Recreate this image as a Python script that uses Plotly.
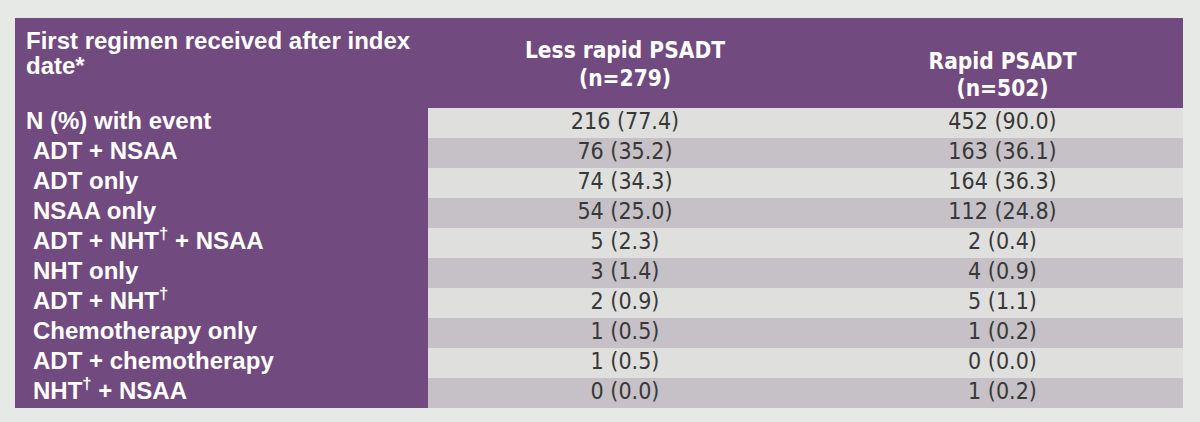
import plotly.graph_objects as go

# ---- data ----
header_lines = [["First regimen received after index", "date*"],
                ["Less rapid PSADT", "(n=279)"],
                ["Rapid PSADT", "(n=502)"]]

regimens = ["N (%) with event", "ADT + NSAA", "ADT only", "NSAA only",
            "ADT + NHT<sup>†</sup> + NSAA", "NHT only", "ADT + NHT<sup>†</sup>",
            "Chemotherapy only", "ADT + chemotherapy", "NHT<sup>†</sup> + NSAA"]
indented = [False, True, True, True, True, True, True, True, True, True]

less_rapid = ["216 (77.4)", "76 (35.2)", "74 (34.3)", "54 (25.0)", "5 (2.3)",
              "3 (1.4)", "2 (0.9)", "1 (0.5)", "1 (0.5)", "0 (0.0)"]

rapid = ["452 (90.0)", "163 (36.1)", "164 (36.3)", "112 (24.8)", "2 (0.4)",
         "4 (0.9)", "5 (1.1)", "1 (0.2)", "0 (0.0)", "1 (0.2)"]

# ---- style / layout ----
PURPLE = "#714a7f"
LIGHT = "#dfe0de"
DARK = "#c5c1c6"
BG = "#e7e9e6"
TXT = "#383838"
SANS = "Liberation Sans, Arial, sans-serif"
NARROW = "Liberation Sans Narrow, Arial Narrow, DejaVu Sans Condensed, Liberation Sans, sans-serif"

W, H = 1200, 422
table_left = 15
col_widths = [413, 394, 361]
table_top = 18
header_h = 90
row_h = 30
head_line_y = [[25, 50], [34, 62], [45, 72]]  # offsets from table top

col_starts = [table_left]
for w in col_widths[:-1]:
    col_starts.append(col_starts[-1] + w)
col_centers = [s + w / 2 for s, w in zip(col_starts, col_widths)]

n = len(regimens)
row_centers = [table_top + header_h + row_h * (i + 0.5) for i in range(n)]
header_center = table_top + header_h / 2
stripe = [LIGHT if i % 2 == 0 else DARK for i in range(n)]

fig = go.Figure()

# header background
fig.add_trace(go.Bar(
    orientation="h", y=[header_center], x=[sum(col_widths)], base=[table_left],
    width=[header_h], marker=dict(color=PURPLE, line=dict(width=0)),
    hoverinfo="skip", showlegend=False))

# label column background
fig.add_trace(go.Bar(
    orientation="h", y=row_centers, x=[col_widths[0]] * n, base=[col_starts[0]] * n,
    width=[row_h] * n, marker=dict(color=PURPLE, line=dict(width=0)),
    hoverinfo="skip", showlegend=False))

# striped value cells
for c in (1, 2):
    fig.add_trace(go.Bar(
        orientation="h", y=row_centers, x=[col_widths[c]] * n, base=[col_starts[c]] * n,
        width=[row_h] * n, marker=dict(color=stripe, line=dict(width=0)),
        hoverinfo="skip", showlegend=False))

# header texts
for c in range(3):
    lines = header_lines[c]
    ys = [table_top + off for off in head_line_y[c]]
    if c == 0:
        xs, pos = [col_starts[0] + 11] * len(lines), "middle right"
        font = dict(color="white", size=24, family=SANS)
    else:
        xs, pos = [col_centers[c]] * len(lines), "middle center"
        font = dict(color="white", size=22.5, family=NARROW)
    fig.add_trace(go.Scatter(
        x=xs, y=ys, mode="text", text=[f"<b>{t}</b>" for t in lines],
        textposition=pos, textfont=font,
        hoverinfo="skip", showlegend=False))

# row labels
fig.add_trace(go.Scatter(
    x=[col_starts[0] + (18 if ind else 11) for ind in indented], y=row_centers,
    mode="text", text=[f"<b>{r}</b>" for r in regimens], textposition="middle right",
    textfont=dict(color="white", size=24, family=SANS),
    hoverinfo="skip", showlegend=False))

# values
for c, vals in ((1, less_rapid), (2, rapid)):
    fig.add_trace(go.Scatter(
        x=[col_centers[c]] * n, y=row_centers, mode="text",
        text=vals, textposition="middle center",
        textfont=dict(color=TXT, size=23, family=NARROW),
        hoverinfo="skip", showlegend=False))

fig.update_layout(
    width=W, height=H,
    margin=dict(l=0, r=0, t=0, b=0),
    paper_bgcolor=BG, plot_bgcolor=BG,
    barmode="overlay",
    xaxis=dict(range=[0, W], visible=False, fixedrange=True),
    yaxis=dict(range=[H, 0], visible=False, fixedrange=True),
)

fig.write_html("out.html", config={"displayModeBar": False},
               post_script="document.body.style.margin='0';")
